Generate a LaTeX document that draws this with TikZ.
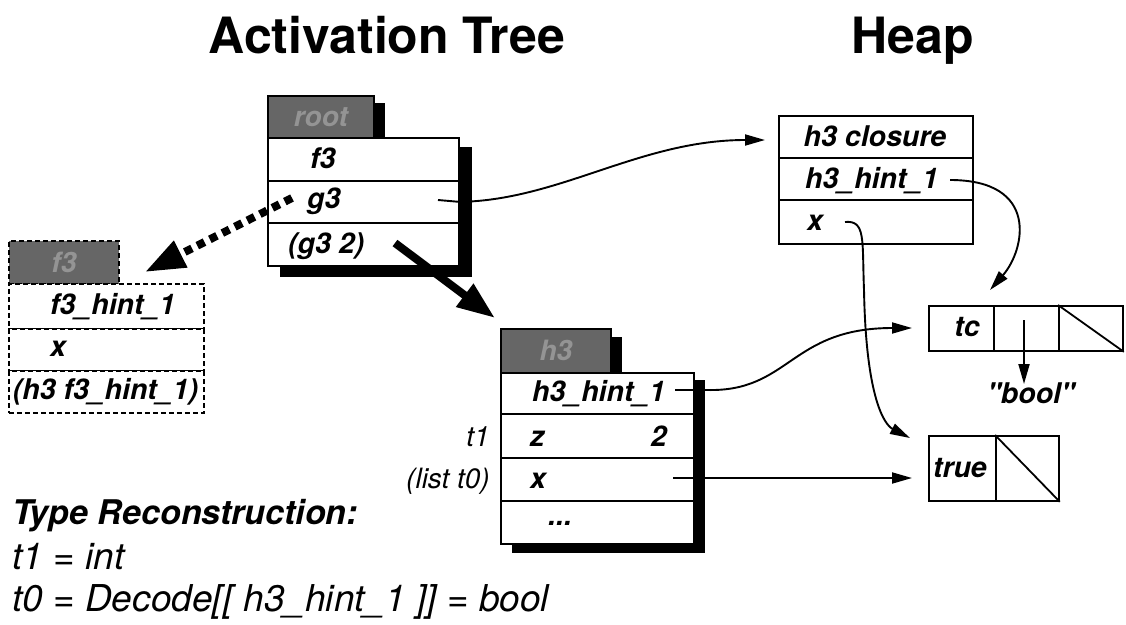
\documentclass[tikz,border=0pt]{standalone}
\usepackage{fontspec}
\setmainfont{TeX Gyre Heros}
\usetikzlibrary{arrows.meta}
\begin{document}
\begin{tikzpicture}[x=1pt,y=-1pt,
  bi/.style={font=\fontsize{28.5}{30}\selectfont\bfseries\itshape, inner sep=0pt},
  ri/.style={font=\fontsize{28}{30}\selectfont\itshape, inner sep=0pt},
  cell/.style={draw, line width=1.8pt, fill=white, inner sep=0pt, anchor=north west},
  tabcell/.style={draw, line width=1.8pt, fill=black!60, text=black!42, inner sep=0pt, anchor=north west,
    font=\fontsize{28}{30}\selectfont\bfseries\itshape},
  dashcell/.style={dash pattern=on 5pt off 3pt},
  shadowfill/.style={fill=black},
  conn/.style={line width=1.9pt, -{Triangle[length=20pt,width=11pt]}},
  bigarrow/.style={line width=8pt, -{Triangle[length=38pt,width=27pt]}},
  dotarrow/.style={line width=8pt, dash pattern=on 8pt off 6pt, -{Triangle[length=40pt,width=28pt]}},
  titletext/.style={font=\fontsize{50}{52}\selectfont\bfseries, inner sep=0pt, anchor=base},
  trhead/.style={font=\fontsize{34}{36}\selectfont\bfseries\itshape, inner sep=0pt, anchor=base west},
  trline/.style={font=\fontsize{37}{39}\selectfont\itshape, inner sep=0pt, anchor=base west}
]
\useasboundingbox (0,0) rectangle (1126,624);

% titles
\node[titletext] (tat) at (387,53) {Activation Tree};
\node[titletext] (theap) at (913,53) {Heap};

% ---------- root frame ----------
\fill[shadowfill] (373,103) rectangle (385,137);
\fill[shadowfill] (280,147) rectangle (472,277);
\node[tabcell, minimum width=106pt, minimum height=42pt] (roottab) at (267,95) {root};
\node[cell, minimum width=191pt, minimum height=43pt] (rf3) at (267,137) {};
\node[cell, minimum width=191pt, minimum height=42pt] (rg3) at (267,180) {};
\node[cell, minimum width=191pt, minimum height=43pt] (rg32) at (267,222) {};
\node[bi, anchor=base west] (trf3) at (310,168) {f3};
\node[bi, anchor=base west] (trg3) at (307,208) {g3};
\node[bi, anchor=base west] (trg32) at (288,253) {(g3 2)};

% ---------- f3 frame (dashed) ----------
\node[tabcell, dashcell, minimum width=110pt, minimum height=43pt] (f3tab) at (8,240) {f3};
\node[cell, dashcell, minimum width=195pt, minimum height=45pt] (fr1) at (8,283) {};
\node[cell, dashcell, minimum width=195pt, minimum height=42pt] (fr2) at (8,328) {};
\node[cell, dashcell, minimum width=195pt, minimum height=42pt] (fr3) at (8,370) {};
\node[bi, anchor=base west] (tfr1) at (50,314) {f3\_hint\_1};
\node[bi, anchor=base west] (tfr2) at (50,356) {x};
\node[bi, anchor=base] (tfr3) at (105.5,399) {(h3 f3\_hint\_1)};

% ---------- h3 frame ----------
\fill[shadowfill] (610,337) rectangle (622,372);
\fill[shadowfill] (512,380) rectangle (705,553);
\node[tabcell, minimum width=110pt, minimum height=44pt] (h3tab) at (500,328) {h3};
\node[cell, minimum width=193pt, minimum height=41pt] (hr1) at (500,372) {};
\node[cell, minimum width=193pt, minimum height=44pt] (hr2) at (500,413) {};
\node[cell, minimum width=193pt, minimum height=43pt] (hr3) at (500,457) {};
\node[cell, minimum width=193pt, minimum height=43pt] (hr4) at (500,500) {};
\node[bi, anchor=base west] (thr1) at (532,401) {h3\_hint\_1};
\node[bi, anchor=base west] (thr2a) at (530,446) {z};
\node[bi, anchor=base east] (thr2b) at (667,446) {2};
\node[bi, anchor=base west] (thr3) at (530,488) {x};
\node[bi, anchor=base west] (thr4) at (548,525) {...};
\node[ri, anchor=base east] (lt1) at (490,446) {t1};
\node[ri, anchor=base east] (llist) at (490,488) {(list t0)};

% ---------- heap: h3 closure ----------
\node[cell, minimum width=194pt, minimum height=42pt] (hc1) at (778,115) {};
\node[cell, minimum width=194pt, minimum height=42pt] (hc2) at (778,157) {};
\node[cell, minimum width=194pt, minimum height=44pt] (hc3) at (778,199) {};
\node[bi, anchor=base] (thc1) at (875,146) {h3 closure};
\node[bi, anchor=base west] (thc2) at (805,188) {h3\_hint\_1};
\node[bi, anchor=base west] (thc3) at (807,230) {x};

% ---------- heap: tc cell ----------
\node[cell, minimum width=65pt, minimum height=45pt] (tc1) at (928,305) {};
\node[cell, minimum width=65pt, minimum height=45pt] (tc2) at (993,305) {};
\node[cell, minimum width=64pt, minimum height=45pt] (tc3) at (1058,305) {};
\draw[line width=1.8pt] (tc3.north west) -- (tc3.south east);
\node[bi, anchor=base] (ttc) at (967,336) {tc};
\node[bi, anchor=base] (tbool) at (1031,403) {\textquotedbl bool\textquotedbl};

% ---------- heap: true cell ----------
\node[cell, minimum width=67pt, minimum height=65pt] (tr1) at (928,435) {};
\node[cell, minimum width=63pt, minimum height=65pt] (tr2) at (995,435) {};
\draw[line width=1.8pt] (tr2.north west) -- (tr2.south east);
\node[bi, anchor=base] (ttrue) at (960,477) {true};

% ---------- connectors ----------
\coordinate (pg3) at (438,200);
\coordinate (ahc) at (765,140);
\draw[conn] (pg3) -- (rg3.east) .. controls (560,200) and (640,140) .. (ahc);

\coordinate (phh) at (950,180);
\coordinate (atc) at (990,290);
\draw[conn] (phh) .. controls (1040,180) and (1025,250) .. (atc);

\coordinate (phx) at (845,222);
\coordinate (midx) at (864,290);
\coordinate (atr) at (910,438);
\draw[conn] (phx) .. controls (866,220) and (862,240) .. (midx) .. controls (866,400) and (885,425) .. (atr);

\coordinate (ph3h) at (675,390);
\coordinate (ph3e) at (707,390);
\coordinate (atc2) at (912,328);
\draw[conn] (ph3h) -- (ph3e) .. controls (790,392) and (790,328) .. (atc2);

\coordinate (ph3x) at (673,478);
\coordinate (atr2) at (912,478);
\draw[conn] (ph3x) -- (atr2);

\coordinate (ptc) at (1024,320);
\coordinate (abool) at (1024,384);
\draw[conn] (ptc) -- (abool);

\coordinate (tk1) at (395,243);
\coordinate (tk2) at (495,318);
\draw[bigarrow] (tk1) -- (tk2);

\coordinate (dt1) at (292,198);
\coordinate (dt2) at (145,272);
\draw[dotarrow] (dt1) -- (dt2);

% ---------- type reconstruction ----------
\node[trhead] (trh) at (12,524) {Type Reconstruction:};
\node[trline] (trl1) at (12,569) {t1 = int};
\node[trline] (trl2) at (12,611) {t0 = Decode[[ h3\_hint\_1 ]] = bool};
\end{tikzpicture}
\end{document}
